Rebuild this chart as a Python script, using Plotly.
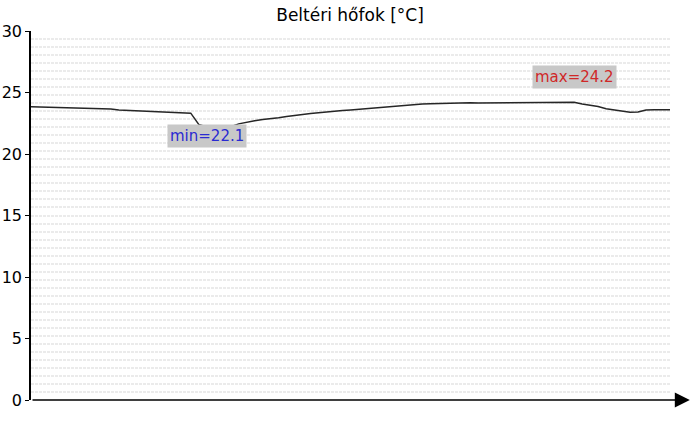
import plotly.graph_objects as go

# sample index (uniform time steps) and indoor temperature values
t = list(range(81))
temp = [23.85, 23.83, 23.80, 23.82, 23.76, 23.78, 23.74, 23.70, 23.66, 23.64,
        23.66, 23.58, 23.55, 23.52, 23.47, 23.45, 23.40, 23.38, 23.36, 23.34,
        23.32, 22.40, 22.20, 22.12, 22.16, 22.22, 22.45, 22.60, 22.70, 22.80,
        22.86, 22.95, 23.05, 23.15, 23.22, 23.30, 23.36, 23.44, 23.50, 23.54,
        23.58, 23.64, 23.70, 23.74, 23.80, 23.84, 23.90, 23.96, 24.02, 24.06,
        24.08, 24.10, 24.13, 24.15, 24.15, 24.16, 24.15, 24.15, 24.16, 24.15,
        24.15, 24.16, 24.15, 24.20, 24.21, 24.19, 24.21, 24.21, 24.20, 24.06,
        23.98, 23.86, 23.68, 23.58, 23.46, 23.40, 23.42, 23.58, 23.60, 23.60,
        23.60]
y_ticks = [0, 5, 10, 15, 20, 25, 30]
title = "Beltéri hőfok [°C]"
min_label = "min=22.1"
max_label = "max=24.2"
min_pos = (22, 21.45)
max_pos = (68, 26.25)

W, H = 700, 430

fig = go.Figure()
fig.add_trace(go.Scatter(x=t, y=temp, mode="lines",
                         line=dict(color="#262626", width=1.5),
                         hoverinfo="skip", showlegend=False))

fig.add_annotation(x=min_pos[0], y=min_pos[1], text=min_label, showarrow=False,
                   bgcolor="#c8c8c8", font=dict(color="#2a2ad2", size=15, family="DejaVu Sans"),
                   borderpad=2)
fig.add_annotation(x=max_pos[0], y=max_pos[1], text=max_label, showarrow=False,
                   bgcolor="#c8c8c8", font=dict(color="#d02828", size=15, family="DejaVu Sans"),
                   borderpad=2)
# x axis arrow
fig.add_annotation(x=1.031, y=0, xref="x domain", yref="y domain", ax=0, ay=0,
                   axref="x domain", ayref="y domain", text="", showarrow=True,
                   arrowhead=2, arrowsize=2, arrowwidth=1.5, arrowcolor="black")

fig.update_layout(
    width=W, height=H,
    margin=dict(l=31, r=30, t=31, b=30, autoexpand=False),
    paper_bgcolor="white", plot_bgcolor="white",
    title=dict(text=title, x=0.5, xanchor="center", y=1 - 15/H, yanchor="middle",
               font=dict(size=17, color="black", family="DejaVu Sans")),
    font=dict(family="DejaVu Sans", color="black"),
    xaxis=dict(range=[0, 80], showgrid=False, showticklabels=False, zeroline=False,
               showline=False, ticks="", automargin=False),
    yaxis=dict(range=[0, 30], tickvals=y_ticks, showgrid=False, zeroline=False,
               showline=True, linecolor="black", linewidth=1.5, automargin=False,
               ticks="outside", ticklen=4, tickcolor="black", tickwidth=1,
               tickfont=dict(size=16, color="black", family="DejaVu Sans"),
               minor=dict(tick0=0, dtick=30/46, showgrid=True, gridcolor="#ebebeb",
                          gridwidth=2, griddash="3px,1px", ticklen=0)),
)

fig.write_html("out.html", config={"displayModeBar": False},
               post_script="document.body.style.margin='0';")
